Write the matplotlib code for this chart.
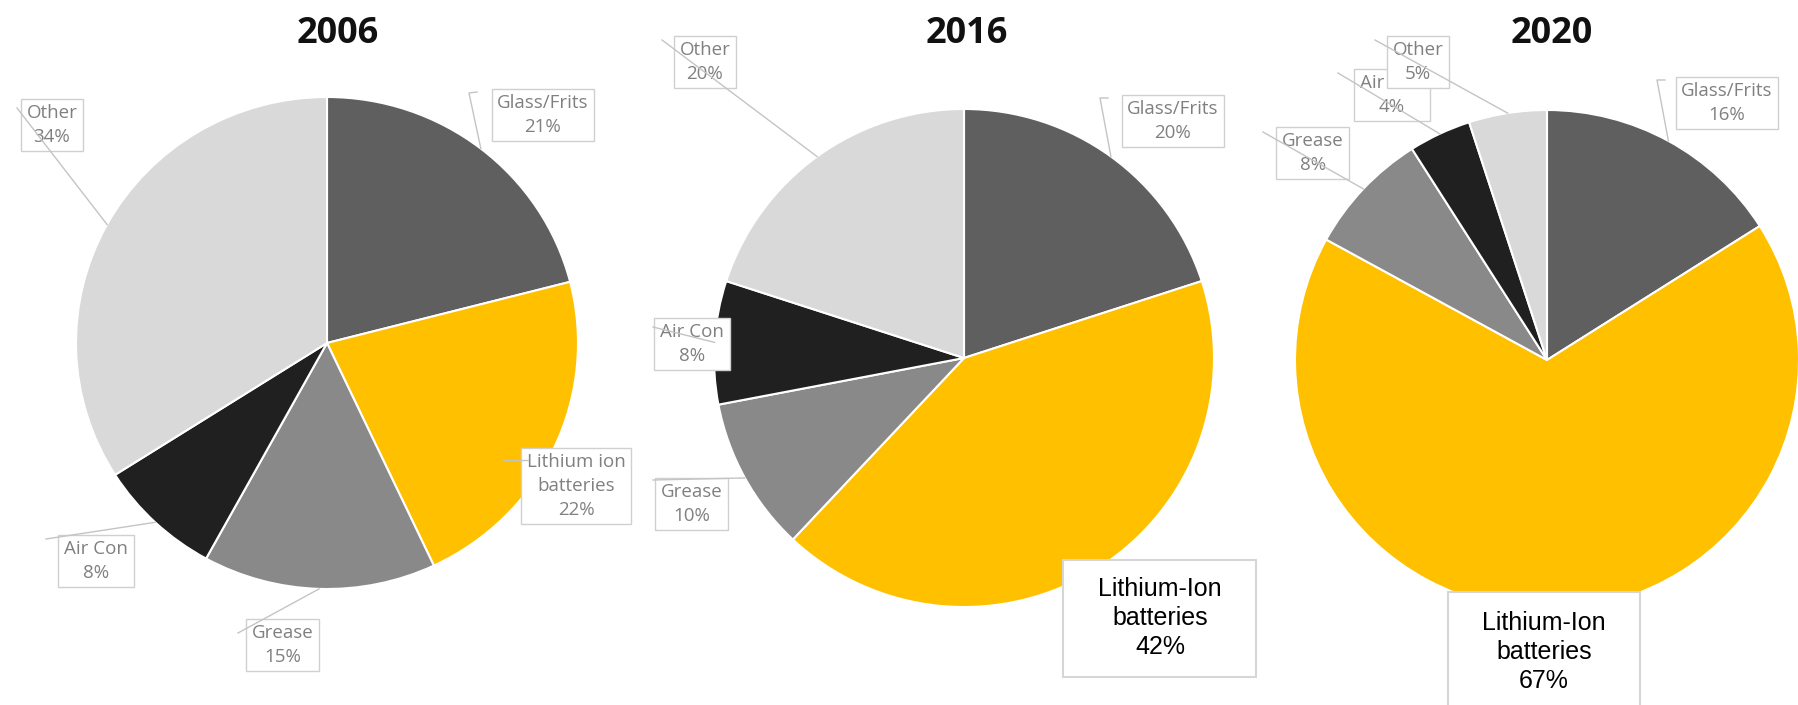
import matplotlib
matplotlib.use("Agg")
import matplotlib.pyplot as plt
from matplotlib.patches import Rectangle
import numpy as np

W, H = 1799, 705

# market share of each end use, clockwise from 12 o'clock
years = ["2006", "2016", "2020"]
segments = ["Glass/Frits", "Lithium ion batteries", "Grease", "Air Con", "Other"]
share_2006 = [21, 22, 15, 8, 34]
share_2016 = [20, 42, 10, 8, 20]
share_2020 = [16, 67, 8, 4, 5]
shares = [share_2006, share_2016, share_2020]

# label wording as printed on each chart
label_names = [
    ["Glass/Frits", "Lithium ion\nbatteries", "Grease", "Air Con", "Other"],
    ["Glass/Frits", "Lithium-Ion\nbatteries", "Grease", "Air Con", "Other"],
    ["Glass/Frits", "Lithium-Ion\nbatteries", "Grease", "Air Con", "Other"],
]
colors = ["#5f5f5f", "#ffc000", "#898989", "#202020", "#d9d9d9"]

# layout in pixels (x right, y down)
pie_centers = [(327, 343), (964, 358), (1547, 360)]
pie_radii = [(251, 246), (250, 249), (252, 250)]
title_pos = [(338, 34), (967, 34), (1552, 34)]

# small callouts: text centre per segment (None = big box instead)
callout_pos = [
    [(543, 115), (576, 486), (283, 645), (96, 561), (52, 125)],
    [(1173, 121), None, (692, 504), (692, 344), (705, 62)],
    [(1727, 103), None, (1313, 153), (1392, 95), (1418, 62)],
]
# leader lines: "edge" starts at the wedge rim, then the listed points
leaders = [
    [("edge", [(469, 93), (477, 92)]), ("free", [(503, 460), (528, 460)]),
     ("edge", [(238, 633)]), ("edge", [(46, 539)]), ("edge", [(17, 108)])],
    [("edge", [(1100, 98), (1108, 98)]), None,
     ("edge", [(653, 480)]), ("edge", [(653, 327)]), ("edge", [(662, 40)])],
    [("edge", [(1657, 80), (1665, 80)]), None,
     ("edge", [(1263, 132)]), ("edge", [(1338, 73)]), ("edge", [(1375, 40)])],
]
# big boxes for the lithium-ion slice: (x0, y0, x1, y1) and text centre
big_boxes = [None, (1063, 560, 1256, 677), (1448, 592, 1640, 720)]
big_text = [None, (1160, 618), (1544, 652)]

fig = plt.figure(figsize=(W / 100, H / 100), dpi=100)

ov = fig.add_axes([0, 0, 1, 1])
ov.set_xlim(0, W)
ov.set_ylim(H, 0)
ov.axis("off")
ov.set_zorder(5)
ov.patch.set_alpha(0)

for i, year in enumerate(years):
    cx, cy = pie_centers[i]
    rx, ry = pie_radii[i]
    ax = fig.add_axes([(cx - rx) / W, (H - cy - ry) / H, 2 * rx / W, 2 * ry / H])
    wedges, _ = ax.pie(shares[i], colors=colors, startangle=90, counterclock=False,
                       radius=1, wedgeprops=dict(edgecolor="white", linewidth=1.5))
    ax.set_aspect("auto")
    ax.set_xlim(-1, 1)
    ax.set_ylim(-1, 1)

    ov.text(*title_pos[i], year, ha="center", va="center", fontsize=26,
            fontweight="bold", family="Open Sans", color="#111111")

    for j, w in enumerate(wedges):
        txt = f"{label_names[i][j]}\n{shares[i][j]}%"
        if callout_pos[i][j] is not None:
            ov.text(*callout_pos[i][j], txt, ha="center", va="center",
                    fontsize=13.5, family="Open Sans", color="#808080",
                    linespacing=1.4, zorder=3 + j,
                    bbox=dict(boxstyle="square,pad=0.3", fc="white",
                              ec="#d0d0d0", lw=1))
        else:
            x0, y0, x1, y1 = big_boxes[i]
            ov.add_patch(Rectangle((x0, y0), x1 - x0, y1 - y0, fc="white",
                                   ec="#d6d6d6", lw=1.5, zorder=3))
            ov.text(*big_text[i], txt, ha="center", va="center", fontsize=18,
                    family="Liberation Sans", color="black", linespacing=1.28,
                    zorder=4)

        ld = leaders[i][j]
        if ld is None:
            continue
        kind, pts = ld
        if kind == "edge":
            ang = np.deg2rad((w.theta1 + w.theta2) / 2)
            p = ax.transData.transform((np.cos(ang), np.sin(ang)))
            start = ov.transData.inverted().transform(p)
            pts = [tuple(start)] + pts
        xs, ys = zip(*pts)
        ov.plot(xs, ys, color="#c4c4c4", lw=1, zorder=20)

fig.savefig("out.png", dpi=100)
